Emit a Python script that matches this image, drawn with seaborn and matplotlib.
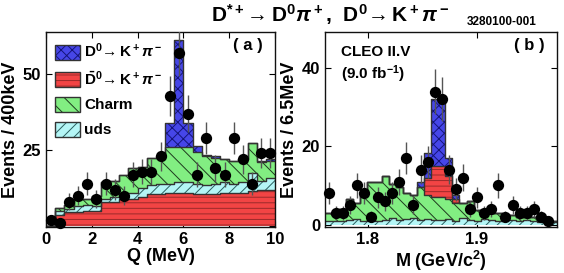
import numpy as np
import matplotlib
matplotlib.use("Agg")
import matplotlib.pyplot as plt
import seaborn as sns
from matplotlib.patches import Patch

# ---------------- Panel (a): Q distribution, 0.4 MeV bins ----------------
q_binwidth = 0.4
q_range = (0.0, 10.0)
q_centers = np.arange(0.2, 10.0, 0.4)
# stacked components (individual heights), bottom -> top: wrong-sign D0bar, uds, charm, signal
qa_dbar = [0, 3.5, 4.5, 4.5, 5, 5, 8, 8, 9, 9, 9.5, 10.5, 10.5, 11, 11, 11, 10.5, 10.5, 10.5, 11, 11, 11, 11.5, 12, 12]
qa_uds = [0, 1.5, 1.0, 2.0, 2.0, 1.5, 1.0, 1.5, 1.5, 2.0, 3.0, 3.0, 3.5, 3.0, 3.5, 3.5, 3.5, 3.0, 3.5, 3.5, 3.0, 3.5, 6.0, 3.0, 4.0]
qa_charm = [0, 1.0, 1.5, 2.5, 2.0, 3.5, 5.5, 5.5, 6.5, 8.0, 7.0, 9.0, 8.5, 12.0, 11.5, 11.5, 10.5, 9.5, 8.5, 7.5, 7.5, 7.5, 10.0, 6.0, 5.5]
qa_signal = [0, 0, 0, 0, 0, 0, 0, 0, 0, 0, 0, 0, 0.5, 8.0, 35.5, 8.0, 2.0, 0.5, 0.5, 0, 0, 0, 0, 0.5, 0.5]
qa_data = [2, 1, 8, 10, 14, 9, 14, 12, 10, 17, 18, 18, 23, 43, 57, 37, 17, 29, 19, 17, 29, 22, 14, 24, 24]

# ---------------- Panel (b): M distribution, 6.5 MeV bins ----------------
m_binwidth = 0.0065
m_start = 1.7605
m_nbins = 33
m_centers = m_start + m_binwidth * (np.arange(m_nbins) + 0.5)
# stacked components, bottom -> top: uds, charm, wrong-sign D0bar, signal
mb_uds = [1.0, 1.0, 1.0, 1.2, 1.5, 1.0, 1.2, 1.0, 1.2, 1.8, 1.2, 1.4, 1.8, 1.2, 1.5, 1.3, 1.2,
          1.5, 1.0, 1.8, 1.2, 1.0, 1.4, 1.2, 1.0, 1.6, 1.2, 1.0, 1.2, 1.0, 0.8, 0.8, 0.8]
mb_charm = [2.0, 2.0, 3.0, 5.3, 4.0, 7.0, 9.8, 10.0, 11.3, 8.7, 8.3, 6.6, 5.7, 8.3, 6.0, 5.7, 5.8,
            5.0, 4.5, 3.7, 4.8, 2.8, 2.4, 1.8, 2.0, 0.9, 1.3, 1.0, 0.8, 1.0, 0.7, 0.2, 0.2]
mb_dbar = [0] * 14 + [4.5, 8.0, 8.0, 6.0, 1.0] + [0] * 14
mb_signal = [0] * 13 + [1.5, 6.3, 17.1, 17.1, 4.5, 1.0] + [0] * 14
mb_data = [8, 3, 3, 5, 10, 8, 2, 7, 6, 8, 11, 17, 5, 14, 16, 34, 32, 14, 9, 12, 4, 7, 3, 4, 10, 2,
           5, 3, 3, 4, 2, 1]

# ---------------- styles ----------------
C_SIG, H_SIG = "#4646e8", "#14147a"
C_DBAR, H_DBAR = "#f24444", "#9a2a2a"
C_CHARM, H_CHARM = "#82ee82", "#1e3a1e"
C_UDS, H_UDS = "#b4f6f6", "#2a6060"
OUTLINE = "#333333"

sns.set_theme(style="ticks")
plt.rcParams.update({
    "font.family": ["Liberation Sans", "DejaVu Sans"],
    "font.weight": "bold",
    "text.color": "black",
    "axes.labelcolor": "black",
    "xtick.color": "black",
    "ytick.color": "black",
    "mathtext.fontset": "custom",
    "mathtext.rm": "Liberation Sans:bold",
    "mathtext.it": "Liberation Sans:italic:bold",
    "mathtext.bf": "Liberation Sans:bold",
    "mathtext.sf": "Liberation Sans:bold",
    "hatch.linewidth": 0.7,
    "axes.linewidth": 1.0,
    "axes.edgecolor": "#111111",
    "xtick.direction": "in",
    "ytick.direction": "in",
    "xtick.top": True,
    "ytick.right": True,
    "xtick.major.size": 4,
    "ytick.major.size": 4,
    "xtick.major.width": 0.8,
    "ytick.major.width": 0.8,
    "xtick.labelsize": 12,
    "ytick.labelsize": 12,
})

fig = plt.figure(figsize=(5.64, 2.73), dpi=100)
ax_a = fig.add_axes([0.0816, 0.1685, 0.4060, 0.7143])
ax_b = fig.add_axes([0.5762, 0.1685, 0.4113, 0.7143])


def stacked(ax, centers, comps, styles, bins):
    cum = np.cumsum(np.array(comps, dtype=float), axis=0)
    bins = [float(b) for b in bins]
    # draw from the tallest cumulative layer down so lower layers overlay
    for level in range(len(comps) - 1, -1, -1):
        col, hcol, hatch = styles[level]
        sns.histplot(x=centers, weights=cum[level], bins=bins, element="step", fill=True,
                     color=col, facecolor=col, alpha=1, edgecolor=hcol, linewidth=0,
                     hatch=hatch, ax=ax, legend=False)
    for level in range(len(comps)):
        sns.histplot(x=centers, weights=cum[level], bins=bins, element="step", fill=False,
                     color=OUTLINE, linewidth=1.0, ax=ax, legend=False)


def points(ax, x, y):
    y = np.asarray(y, dtype=float)
    ax.errorbar(x, y, yerr=np.sqrt(y), fmt="none", ecolor="#555555", elinewidth=1.0,
                capsize=0, zorder=5)
    sns.scatterplot(x=x, y=y, s=66, color="black", edgecolor="black", linewidth=0,
                    zorder=6, clip_on=False, ax=ax, legend=False)


q_bins = np.linspace(q_range[0], q_range[1], len(q_centers) + 1)
stacked(ax_a, q_centers, [qa_dbar, qa_uds, qa_charm, qa_signal],
        [(C_DBAR, H_DBAR, "---"), (C_UDS, H_UDS, "///"), (C_CHARM, H_CHARM, "\\\\"),
         (C_SIG, H_SIG, "xxx")], q_bins)
points(ax_a, q_centers, qa_data)

m_bins = m_start + m_binwidth * np.arange(m_nbins + 1)
stacked(ax_b, m_centers, [mb_uds, mb_charm, mb_dbar, mb_signal],
        [(C_UDS, H_UDS, "///"), (C_CHARM, H_CHARM, "\\\\"), (C_DBAR, H_DBAR, "---"),
         (C_SIG, H_SIG, "xxx")], m_bins)
points(ax_b, m_centers[:len(mb_data)], mb_data)

# axes (a)
ax_a.set_xlim(0, 10)
ax_a.set_ylim(-0.3, 64)
ax_a.set_xticks([0, 2, 4, 6, 8, 10])
ax_a.set_yticks([0, 25, 50])
ax_a.set_yticklabels(["", "25", "50"])
ax_a.set_xlabel("Q (MeV)", fontsize=13, fontweight="bold")
ax_a.set_ylabel("Events / 400keV", fontsize=13, fontweight="bold")
ax_a.xaxis.set_label_coords(0.5, -0.11)
ax_a.yaxis.set_label_coords(-0.118, 0.5)
ax_a.text(0.882, 0.93, "( a )", transform=ax_a.transAxes, ha="center", va="center",
          fontsize=12, fontweight="bold")

# axes (b)
ax_b.set_xlim(m_start, 1.9735)
ax_b.set_ylim(-0.6, 49.2)
ax_b.set_xticks([1.8, 1.9])
ax_b.set_xticklabels(["1.8", "1.9"])
ax_b.set_yticks([0, 20, 40])
ax_b.set_xlabel("M (GeV/c$^{2}$)", fontsize=13, fontweight="bold")
ax_b.set_ylabel("Events / 6.5MeV", fontsize=13, fontweight="bold")
ax_b.xaxis.set_label_coords(0.5, -0.11)
ax_b.yaxis.set_label_coords(-0.116, 0.5)
ax_b.text(0.879, 0.93, "( b )", transform=ax_b.transAxes, ha="center", va="center",
          fontsize=12, fontweight="bold")
ax_b.text(0.07, 0.895, "CLEO II.V", transform=ax_b.transAxes, ha="left", va="center",
          fontsize=11, fontweight="bold")
ax_b.text(0.07, 0.785, "(9.0 fb$^{-1}$)", transform=ax_b.transAxes, ha="left", va="center",
          fontsize=11, fontweight="bold")

for ax in (ax_a, ax_b):
    ax.tick_params(axis="both", which="major", pad=3.5, colors="black", labelcolor="black")
    for lab in ax.get_xticklabels() + ax.get_yticklabels():
        lab.set_fontweight("bold")

# legend in panel (a)
leg_labels = [r"D$^0\!\rightarrow$K$^+\pi^-$", r"$\bar{\mathrm{D}}^0\!\rightarrow$K$^+\pi^-$",
              "Charm", "uds"]
leg_styles = [(C_SIG, H_SIG, "xxx"), (C_DBAR, H_DBAR, "---"), (C_CHARM, H_CHARM, "\\\\"),
              (C_UDS, H_UDS, "///")]
handles = [(Patch(facecolor=c, edgecolor=h, hatch=ht, linewidth=0),
            Patch(facecolor="none", edgecolor=OUTLINE, linewidth=1.0))
           for c, h, ht in leg_styles]
ax_a.legend(handles, leg_labels, loc="upper left", bbox_to_anchor=(0.04, 0.95),
            frameon=False, handlelength=1.6, handleheight=1.15,
            labelspacing=0.6, handletextpad=0.3, borderpad=0, borderaxespad=0,
            prop={"weight": "bold", "size": 11})

fig.text(0.586, 0.945, r"D$^{*+}\!\rightarrow$D$^0\pi^+$,  D$^0\!\rightarrow$K$^+\pi^-$",
         ha="center", va="center", fontsize=15, fontweight="bold")
fig.text(0.89, 0.92, "3280100-001", ha="center", va="center", fontsize=8.5, fontweight="bold")

fig.savefig("out.png", dpi=100)
